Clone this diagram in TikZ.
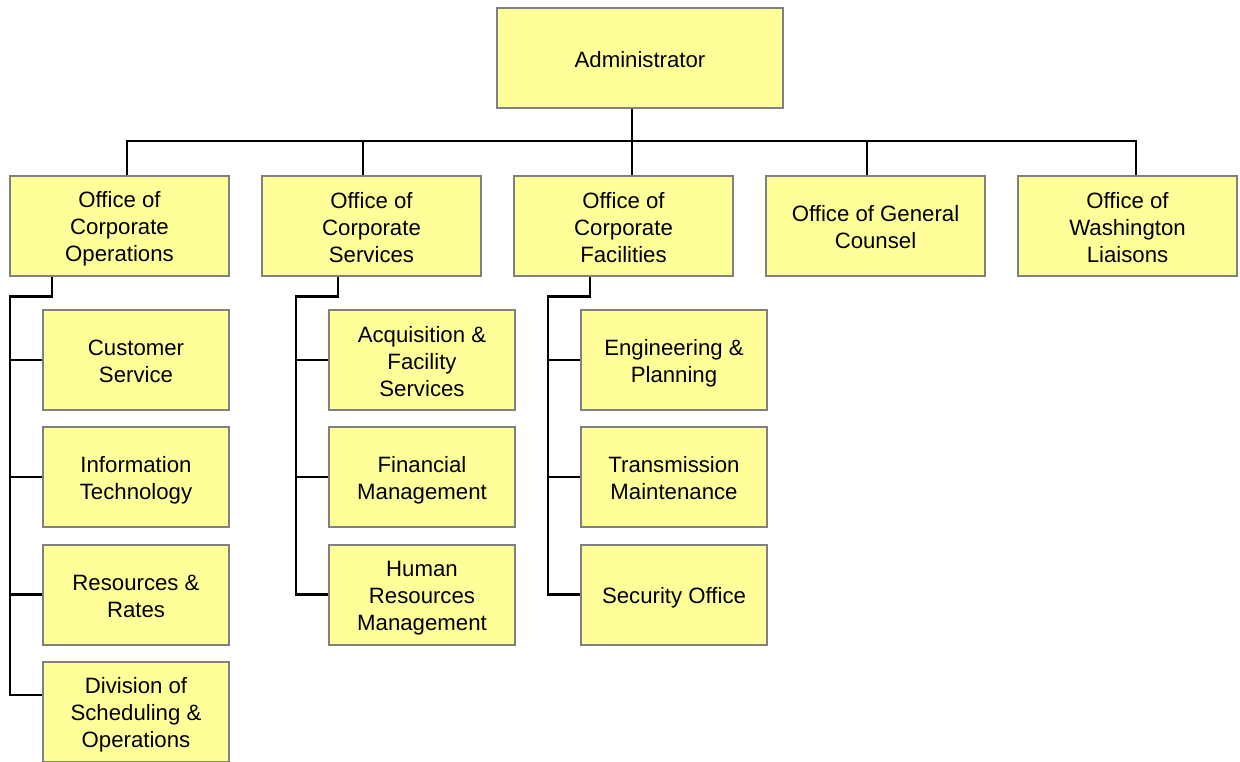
\documentclass[tikz,border=0pt]{standalone}
\usepackage{fontspec}
\setmainfont{Liberation Sans}
\definecolor{boxfill}{HTML}{FFFF99}
\definecolor{boxline}{HTML}{808080}
\newcommand\fstrut{\rule{0pt}{22pt}}
\newcommand\lstrut{\rule[-4pt]{0pt}{0pt}}
\begin{document}
\begin{tikzpicture}[x=1pt,y=-1pt,
  orgbox/.style={draw=boxline, fill=boxfill, line width=2pt, inner sep=0pt,
    align=center, font=\fontsize{22.2}{27}\selectfont, minimum height=100pt},
  topbox/.style={orgbox, minimum width=219pt},
  subbox/.style={orgbox, minimum width=186pt},
  conn/.style={draw=black, line width=2.2pt}]
\useasboundingbox (0,0) rectangle (1240,761);
\fill[white] (0,0) rectangle (1240,761);
% top
\node[orgbox, minimum width=286pt] (admin) at (640,58) {\fstrut Administrator\lstrut};
% row 1
\node[topbox] (coo) at (119.5,226) {\fstrut Office of\\Corporate\\Operations\lstrut};
\node[topbox] (ocs) at (371.5,226) {\fstrut Office of\\Corporate\\Services\lstrut};
\node[topbox] (ocf) at (623.5,226) {\fstrut Office of\\Corporate\\Facilities\lstrut};
\node[topbox] (ogc) at (875.5,226) {\fstrut Office of General\\Counsel\lstrut};
\node[topbox] (owl) at (1127.5,226) {\fstrut Office of\\Washington\\Liaisons\lstrut};
% group 1
\node[subbox] (cs)  at (136,360) {\fstrut Customer\\Service\lstrut};
\node[subbox] (it)  at (136,477) {\fstrut Information\\Technology\lstrut};
\node[subbox] (rr)  at (136,594.5) {\fstrut Resources \&\\Rates\lstrut};
\node[subbox] (dso) at (136,712) {\fstrut Division of\\Scheduling \&\\Operations\lstrut};
% group 2
\node[subbox] (afs) at (422,360) {\fstrut Acquisition \&\\Facility\\Services\lstrut};
\node[subbox] (fm)  at (422,477) {\fstrut Financial\\Management\lstrut};
\node[subbox] (hrm) at (422,594.5) {\fstrut Human\\Resources\\Management\lstrut};
% group 3
\node[subbox] (ep)  at (674,360) {\fstrut Engineering \&\\Planning\lstrut};
\node[subbox] (tm)  at (674,477) {\fstrut Transmission\\Maintenance\lstrut};
\node[subbox] (so)  at (674,594.5) {\fstrut Security Office\lstrut};
% top connectors
\draw[conn] ([xshift=-8pt]admin.south) -- ([xshift=8.5pt]ocf.north);
\draw[conn] ([xshift=7.5pt]coo.north) -- ++(0,-34) -| ([xshift=8.5pt]owl.north);
\draw[conn] ([xshift=-8.5pt]ocs.north) -- ++(0,-34);
\draw[conn] ([xshift=-8.5pt]ogc.north) -- ++(0,-34);
% group 1 connectors
\coordinate (s1) at (10,695);
\draw[conn] ([xshift=-67.5pt]coo.south) -- ++(0,19.5) -| (s1) -- (dso.west |- s1);
\draw[conn] (cs.west) -- (cs.west -| s1);
\draw[conn] (it.west) -- (it.west -| s1);
\draw[conn] (rr.west) -- (rr.west -| s1);
% group 2 connectors
\coordinate (s2) at (296,594.5);
\draw[conn] ([xshift=-33.5pt]ocs.south) -- ++(0,19.5) -| (s2) -- (hrm.west);
\draw[conn] (afs.west) -- (afs.west -| s2);
\draw[conn] (fm.west) -- (fm.west -| s2);
% group 3 connectors
\coordinate (s3) at (548,594.5);
\draw[conn] ([xshift=-33.5pt]ocf.south) -- ++(0,19.5) -| (s3) -- (so.west);
\draw[conn] (ep.west) -- (ep.west -| s3);
\draw[conn] (tm.west) -- (tm.west -| s3);
\end{tikzpicture}
\end{document}
